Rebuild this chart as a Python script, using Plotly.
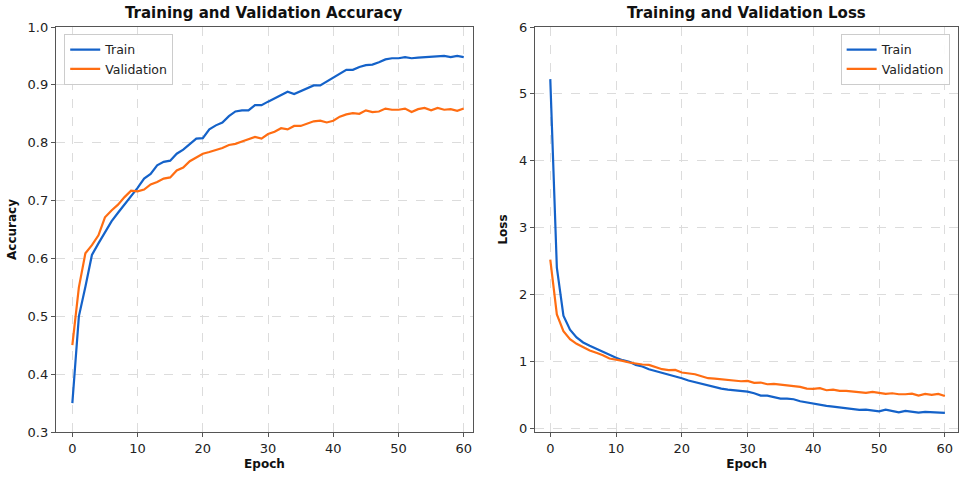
import plotly.graph_objects as go

epochs = list(range(61))

train_acc = [0.35, 0.50, 0.551, 0.606, 0.626, 0.646, 0.664, 0.679, 0.693, 0.706,
             0.722, 0.738, 0.746, 0.761, 0.767, 0.769, 0.781, 0.788, 0.797, 0.807,
             0.808, 0.823, 0.830, 0.835, 0.846, 0.854, 0.856, 0.856, 0.865, 0.865,
             0.871, 0.877, 0.882, 0.888, 0.884, 0.889, 0.893, 0.899, 0.899, 0.906,
             0.913, 0.919, 0.926, 0.926, 0.931, 0.934, 0.935, 0.939, 0.944, 0.946,
             0.946, 0.948, 0.946, 0.947, 0.948, 0.948, 0.949, 0.950, 0.948, 0.950,
             0.948]
val_acc = [0.45, 0.55, 0.609, 0.623, 0.640, 0.671, 0.683, 0.693, 0.706, 0.717,
           0.716, 0.719, 0.728, 0.732, 0.738, 0.740, 0.752, 0.757, 0.768, 0.775,
           0.781, 0.784, 0.787, 0.791, 0.796, 0.798, 0.802, 0.806, 0.810, 0.807,
           0.815, 0.819, 0.825, 0.823, 0.829, 0.829, 0.833, 0.837, 0.838, 0.835,
           0.838, 0.845, 0.849, 0.851, 0.850, 0.856, 0.853, 0.854, 0.859, 0.857,
           0.857, 0.859, 0.853, 0.858, 0.860, 0.856, 0.860, 0.857, 0.858, 0.855,
           0.859]
train_loss = [5.22, 2.40, 1.68, 1.47, 1.355, 1.28, 1.23, 1.185, 1.135, 1.10,
              1.05, 1.015, 0.99, 0.945, 0.92, 0.88, 0.855, 0.83, 0.805, 0.77,
              0.745, 0.71, 0.685, 0.655, 0.635, 0.61, 0.59, 0.575, 0.565, 0.55,
              0.545, 0.52, 0.485, 0.485, 0.465, 0.44, 0.44, 0.43, 0.40, 0.38,
              0.36, 0.34, 0.33, 0.32, 0.305, 0.295, 0.285, 0.27, 0.275, 0.265,
              0.25, 0.275, 0.25, 0.235, 0.255, 0.24, 0.23, 0.24, 0.235, 0.24,
              0.225]
val_loss = [2.52, 1.70, 1.45, 1.33, 1.26, 1.205, 1.16, 1.125, 1.09, 1.04,
            1.025, 1.005, 0.98, 0.96, 0.95, 0.945, 0.91, 0.88, 0.865, 0.87,
            0.83, 0.815, 0.805, 0.775, 0.745, 0.74, 0.73, 0.71, 0.70, 0.70,
            0.705, 0.675, 0.68, 0.655, 0.66, 0.65, 0.64, 0.63, 0.615, 0.59,
            0.585, 0.595, 0.565, 0.575, 0.555, 0.555, 0.545, 0.535, 0.525, 0.54,
            0.525, 0.51, 0.52, 0.505, 0.505, 0.515, 0.485, 0.51, 0.495, 0.51,
            0.48]

x_ticks = [0, 10, 20, 30, 40, 50, 60]
acc_ticks = [0.3, 0.4, 0.5, 0.6, 0.7, 0.8, 0.9, 1.0]
loss_ticks = [0, 1, 2, 3, 4, 5, 6]

BLUE = "#1462c9"
ORANGE = "#ff6d12"
FONT = "DejaVu Sans"

fig = go.Figure()
fig.add_trace(go.Scatter(x=epochs, y=train_acc, mode="lines", name="Train",
                         line=dict(color=BLUE, width=2.2), xaxis="x", yaxis="y",
                         legend="legend"))
fig.add_trace(go.Scatter(x=epochs, y=val_acc, mode="lines", name="Validation",
                         line=dict(color=ORANGE, width=2.2), xaxis="x", yaxis="y",
                         legend="legend"))
fig.add_trace(go.Scatter(x=epochs, y=train_loss, mode="lines", name="Train",
                         line=dict(color=BLUE, width=2.2), xaxis="x2", yaxis="y2",
                         legend="legend2"))
fig.add_trace(go.Scatter(x=epochs, y=val_loss, mode="lines", name="Validation",
                         line=dict(color=ORANGE, width=2.2), xaxis="x2", yaxis="y2",
                         legend="legend2"))

axis_common = dict(showline=True, linecolor="#555555", linewidth=1.3, mirror=True,
                   ticks="outside", ticklen=4, tickcolor="#555555", automargin=False,
                   showgrid=True, gridcolor="#dcdcdc", griddash="dash", gridwidth=1,
                   zeroline=False, tickfont=dict(family=FONT, size=13, color="#222222"))

ydom = [0.0962, 0.9435]
title_font = dict(family=FONT, size=12, color="#111111")
fig.update_layout(
    width=973, height=478,
    margin=dict(l=0, r=0, t=0, b=0),
    paper_bgcolor="white", plot_bgcolor="white",
    font=dict(family=FONT, color="#111111"),
    xaxis=dict(domain=[0.0576, 0.486], range=[-2.5, 61.4], tickvals=x_ticks,
               anchor="y", title=dict(text="<b>Epoch</b>", font=title_font, standoff=4),
               **axis_common),
    yaxis=dict(domain=ydom, range=[0.3, 1.0], tickvals=acc_ticks, tickformat=".1f",
               anchor="x", title=dict(text="<b>Accuracy</b>", font=title_font, standoff=8),
               **axis_common),
    xaxis2=dict(domain=[0.550, 0.9846], range=[-2.3, 62.0], tickvals=x_ticks,
                anchor="y2", title=dict(text="<b>Epoch</b>", font=title_font, standoff=4),
                **axis_common),
    yaxis2=dict(domain=ydom, range=[-0.06, 6.0], tickvals=loss_ticks,
                anchor="x2", title=dict(text="<b>Loss</b>", font=title_font, standoff=8),
                **axis_common),
    legend=dict(x=0.066, y=0.929, xanchor="left", yanchor="top",
                bordercolor="#cccccc", borderwidth=1, bgcolor="rgba(255,255,255,0.9)",
                font=dict(family=FONT, size=12.5, color="#222222")),
    legend2=dict(x=0.976, y=0.929, xanchor="right", yanchor="top",
                 bordercolor="#cccccc", borderwidth=1, bgcolor="rgba(255,255,255,0.9)",
                 font=dict(family=FONT, size=12.5, color="#222222")),
    annotations=[
        dict(text="<b>Training and Validation Accuracy</b>", x=(0.0576 + 0.486) / 2, y=1 - 13 / 478,
             xref="paper", yref="paper", xanchor="center", yanchor="middle", showarrow=False,
             font=dict(family=FONT, size=15, color="#111111")),
        dict(text="<b>Training and Validation Loss</b>", x=(0.550 + 0.9846) / 2, y=1 - 13 / 478,
             xref="paper", yref="paper", xanchor="center", yanchor="middle", showarrow=False,
             font=dict(family=FONT, size=15, color="#111111")),
    ],
)

fig.write_html("out.html", config={"displayModeBar": False},
               post_script="document.body.style.margin='0';")
